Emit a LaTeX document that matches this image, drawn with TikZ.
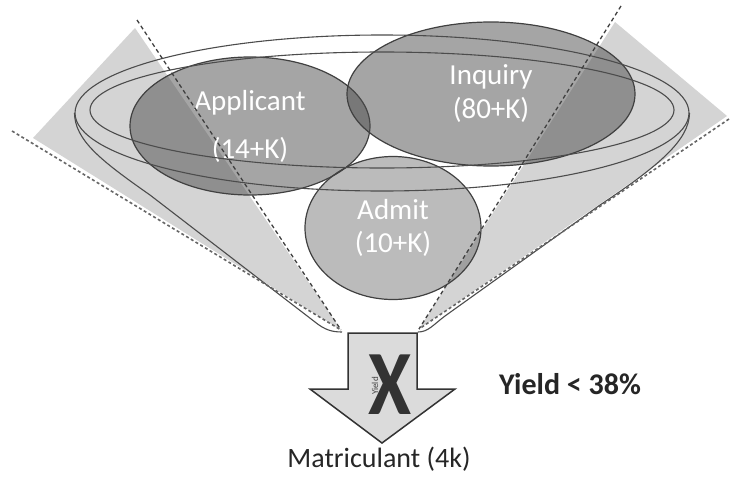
\documentclass[tikz,border=0pt]{standalone}
\usepackage{fontspec}
\setmainfont{Carlito}
\usetikzlibrary{shapes.geometric,positioning}

\begin{document}
\begin{tikzpicture}[
  x=1pt, y=-1pt,
  band/.style={fill=black!17},
  rim/.style={ellipse, draw=black!70, line width=1.1pt, inner sep=0pt},
  rimline/.style={draw=black!70, line width=1.1pt},
  stage/.style={ellipse, draw=black!75, line width=1.2pt, fill=black!70, fill opacity=0.5,
                text opacity=1, text=white, align=center, inner sep=0pt,
                font=\fontsize{29}{35}\selectfont},
  guide/.style={draw=black!75, line width=1.3pt, dash pattern=on 4pt off 3pt},
  edge/.style={draw=black!60, line width=1.6pt, dash pattern=on 3pt off 2.5pt},
  outflow/.style={fill=black!14, draw=black!80, line width=1.5pt, line join=miter},
  caption/.style={text=black!85, inner sep=0pt},
]
\useasboundingbox (0,0) rectangle (730,479);

\coordinate (neckL) at (341,330);
\coordinate (neckR) at (419,329);

\fill[band] (135,28) -- (33,138) -- (neckL) -- cycle;
\fill[band] (615,22) -- (727,116) -- (neckR) -- cycle;

\node[stage, minimum width=240pt, minimum height=138pt] (applicant) at (250,126) {Applicant\\[13pt](14+K)};
\node[stage, minimum width=288pt, minimum height=144pt] (inquiry) at (491,94) {Inquiry\\[-1pt](80+K)};
\node[stage, fill opacity=0.38, minimum width=176pt, minimum height=143pt] (admit) at (393,228) {Admit\\[-2pt](10+K)};

\node[rim, minimum width=614pt, minimum height=156pt] (rimout) at (382,113) {};
\node[rim, minimum width=584pt, minimum height=116pt] (rimin) at (382,110) {};
\draw[rimline] (rimout.west) .. controls (75,140) and (100,160) .. (150,195) -- (315,322) .. controls (325,330) and (332,332) .. (342,332);
\draw[rimline] (rimout.east) .. controls (689,140) and (660,165) .. (600,205) -- (445,316) .. controls (433,325) and (428,332) .. (418,332);

\draw[guide] (137,20) -- (neckL);
\draw[guide] (621,6) -- (neckR);
\draw[edge] (12,131) -- (neckL);
\draw[edge] (729,119) -- (neckR);

\draw[outflow] (348,333) -- (417,333) -- (417,389) -- (455,389) -- (382,443) -- (310,389) -- (348,389) -- cycle;
\node[font=\fontsize{9}{9}\selectfont, text=black!75, rotate=90] (yieldtag) at (375,386) {Yield};
\node[caption, font=\fontsize{92}{92}\selectfont\bfseries, text=black!80, xscale=0.85] (cross) at (390,385) {X};

\node[caption, font=\fontsize{30}{36}\selectfont\bfseries] (yield) at (570,384) {Yield < 38\%};
\node[caption, font=\fontsize{28}{34}\selectfont] (matric) at (379,459) {Matriculant (4k)};

\end{tikzpicture}
\end{document}
